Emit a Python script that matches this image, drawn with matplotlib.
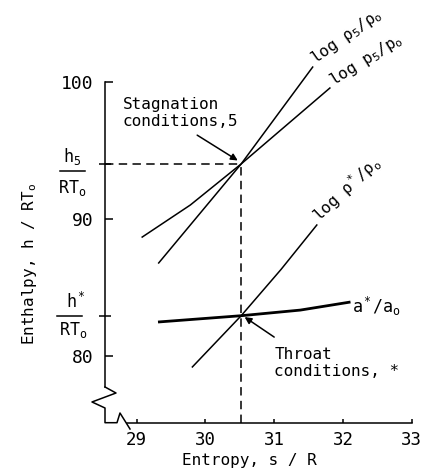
import matplotlib

matplotlib.use("Agg")

import matplotlib.pyplot as plt

plt.rcParams["font.family"] = ["DejaVu Sans Mono", "DejaVu Sans"]
plt.rcParams["mathtext.fontset"] = "custom"
plt.rcParams["mathtext.rm"] = "DejaVu Sans Mono"
plt.rcParams["mathtext.it"] = "DejaVu Sans Mono"
plt.rcParams["mathtext.bf"] = "DejaVu Sans Mono:bold"

# values (entropy s/R, enthalpy h/RT0)
s_rho5 = [29.32, 30.52, 31.56]
h_rho5 = [86.77, 94.0, 101.07]
s_p5 = [29.08, 29.78, 30.52, 31.81]
h_p5 = [88.66, 91.0, 94.0, 99.54]
s_rho_star = [29.81, 30.52, 31.10, 31.62]
h_rho_star = [79.18, 82.92, 86.30, 89.54]
s_a_star = [29.31, 30.52, 31.38, 32.11]
h_a_star = [82.46, 82.92, 83.33, 83.92]

s_stag, h_stag = 30.52, 94.0
h_throat = 82.92

x_ticks = [29, 30, 31, 32, 33]
y_ticks = [80, 90, 100]

fig = plt.figure(figsize=(4.31, 4.75), dpi=100)
ax = fig.add_axes([105 / 431, 52.3 / 475, 326 / 431, 417.7 / 475])
ax.set_xlim(28.539, 33.281)
ax.set_ylim(75.11, 105.6)

lw = 1.1
ax.plot(s_rho5, h_rho5, color="black", lw=lw)
ax.plot(s_p5, h_p5, color="black", lw=lw)
ax.plot(s_rho_star, h_rho_star, color="black", lw=lw)
ax.plot(s_a_star, h_a_star, color="black", lw=2.0, solid_capstyle="butt")

dash = (0, (5.5, 3.5))
ax.plot([28.539, s_stag], [h_stag, h_stag], color="black", lw=1.1, ls=dash)
ax.plot([s_stag, s_stag], [75.11, h_stag], color="black", lw=1.1, ls=dash)

# axes: open left/bottom spines with a break in the corner
for side in ("top", "right"):
    ax.spines[side].set_visible(False)
ax.spines["left"].set_bounds(77.72, 100)
ax.spines["bottom"].set_bounds(28.86, 33)
ax.spines["left"].set_linewidth(1.1)
ax.spines["bottom"].set_linewidth(1.1)
brk_x = [0, 0.0337, -0.0399, 0, 0, 0.0368, 0.046, 0.0767]
brk_y = [0.0855, 0.0711, 0.0496, 0.0352, 0, 0, 0.0232, -0.0151]
ax.plot(brk_x, brk_y, color="black", lw=1.1, transform=ax.transAxes, clip_on=False)

ax.set_xticks(x_ticks)
ax.set_xticklabels([str(v) for v in x_ticks])
ax.set_yticks(y_ticks)
ax.set_yticklabels([str(v) for v in y_ticks])
ax.tick_params(axis="x", direction="in", length=3, width=1.1, pad=6, labelsize=12.5)
ax.tick_params(axis="y", direction="in", length=6, width=1.1, pad=8, labelsize=13)
ax.set_yticks([h_throat, h_stag], minor=True)
ax.tick_params(axis="y", which="minor", direction="inout", length=9, width=1.1)
ax.tick_params(axis="x", which="minor", length=0)

# fraction labels on the y axis
fs_frac = 12
ytr = ax.get_yaxis_transform()
ax.text(-0.10, 93.45 + 0.3, "h$_5$", transform=ytr,
        ha="center", va="bottom", fontsize=fs_frac)
ax.plot([-0.138, -0.061], [93.45, 93.45], color="black", lw=1.1,
        transform=ytr, clip_on=False)
ax.text(-0.10, 93.45 - 0.45, "RT$_o$", transform=ytr,
        ha="center", va="top", fontsize=fs_frac)

ax.text(-0.09, h_throat + 0.25, "h$^*$", transform=ytr,
        ha="center", va="bottom", fontsize=fs_frac)
ax.plot([-0.147, -0.07], [h_throat, h_throat], color="black", lw=1.1,
        transform=ytr, clip_on=False)
ax.text(-0.098, h_throat - 0.3, "RT$_o$", transform=ytr,
        ha="center", va="top", fontsize=fs_frac)

# curve labels
ax.text(31.60, 101.3, "log ρ$_5$/ρ$_o$", rotation=35, rotation_mode="anchor",
        ha="left", va="baseline", fontsize=11.5)
ax.text(31.86, 99.7, "log p$_5$/p$_o$", rotation=32, rotation_mode="anchor",
        ha="left", va="baseline", fontsize=11.5)
ax.text(31.66, 89.7, "log ρ$^*$/ρ$_o$", rotation=43, rotation_mode="anchor",
        ha="left", va="baseline", fontsize=11.5)
ax.text(32.13, 83.12, "a$^*$/a$_o$", ha="left", va="baseline", fontsize=12)

ax.text(28.80, 98.85, "Stagnation\nconditions,5", ha="left", va="top",
        fontsize=11.5, linespacing=1.1)
ax.annotate("", xy=(30.47, 94.25), xytext=(29.88, 96.1),
            arrowprops=dict(arrowstyle="-|>", color="black", lw=1.1,
                            mutation_scale=10, shrinkA=0, shrinkB=0))
ax.annotate("", xy=(30.57, 82.82), xytext=(31.0, 81.36),
            arrowprops=dict(arrowstyle="-|>", color="black", lw=1.1,
                            mutation_scale=10, shrinkA=0, shrinkB=0))
ax.text(31.0, 80.6, "Throat\nconditions, *", ha="left", va="top",
        fontsize=11.5, linespacing=1.15)

fig.text(30 / 431, (475 - 264) / 475, "Enthalpy, h / RT$_o$", rotation=90,
         ha="center", va="center", fontsize=11.5)
fig.text(249 / 431, 15 / 475, "Entropy, s / R", ha="center", va="center",
         fontsize=11.5)

fig.savefig("out.png", dpi=100)
